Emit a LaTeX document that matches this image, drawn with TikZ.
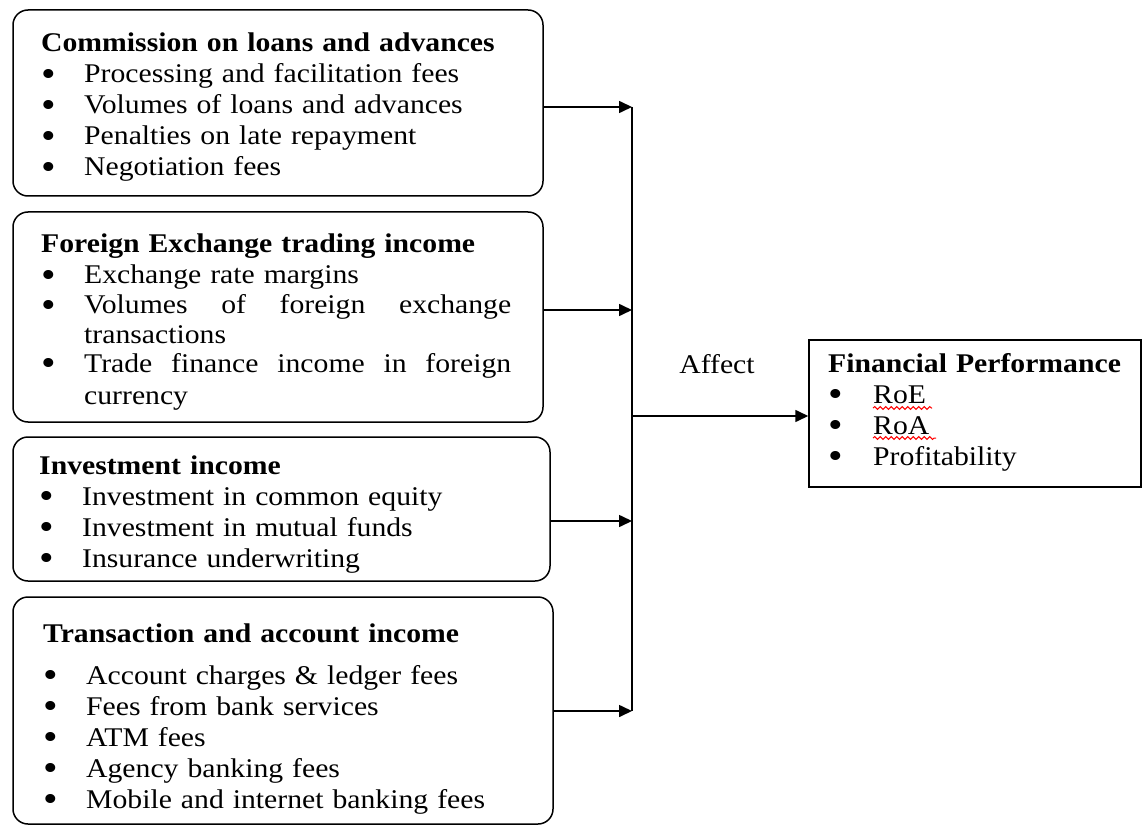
\documentclass[tikz,border=0pt]{standalone}
\usepackage{fontspec}
\usepackage{graphicx}
\setmainfont{Liberation Serif}[FakeStretch=1.1]
\usetikzlibrary{arrows.meta, positioning, decorations.pathmorphing}
\tikzstyle{card} = [draw, line width=1.5pt, rounded corners=15pt, inner sep=0pt]
\tikzstyle{plain} = [draw, line width=1.5pt, inner sep=0pt]
\tikzstyle{txt} = [anchor=base west, inner sep=0pt, text width=500pt, align=left, font=\fontsize{27}{31}\selectfont]
\tikzstyle{line} = [draw, line width=1.6pt]
\tikzstyle{arrow} = [draw, line width=1.6pt, -{Triangle[length=13pt, width=12pt]}]
\tikzstyle{spell} = [draw=red, line width=1pt, decorate, decoration={snake, amplitude=1.4pt, segment length=5.5pt}]
\newcommand{\itm}[1][43pt]{\makebox[#1][l]{\smash{\raisebox{-3.5pt}{\scalebox{1.4}{\textbullet}}}}}

\begin{document}
\begin{tikzpicture}[x=1pt, y=-1pt]
\useasboundingbox (0,0) rectangle (1142,826);

\node [card, minimum width=530pt, minimum height=186pt] (comm) at (278,103) {};
\node [card, minimum width=530pt, minimum height=210pt] (forex) at (278,317) {};
\node [card, minimum width=537pt, minimum height=144pt] (invest) at (281.5,509) {};
\node [card, minimum width=540pt, minimum height=227pt] (trans) at (283,710.5) {};
\node [plain, minimum width=332pt, minimum height=147pt] (perf) at (975,413.5) {};

\node [txt] (commtext) at (41,52) {\textbf{Commission on loans and advances}\\
	\itm Processing and facilitation fees\\
	\itm Volumes of loans and advances\\
	\itm Penalties on late repayment\\
	\itm Negotiation fees};
\node [txt, font=\fontsize{27}{29.5}\selectfont] (forextext) at (41,253) {\textbf{Foreign Exchange trading income}\\[1.5pt]
	\itm Exchange rate margins\\
	\itm\makebox[427pt]{Volumes\hfill of\hfill foreign\hfill exchange}\\
	\hspace*{43pt}transactions\\
	\itm\makebox[427pt]{Trade\hfill finance\hfill income\hfill in\hfill foreign}\\[2pt]
	\hspace*{43pt}currency};
\node [txt] (investtext) at (39,474) {\textbf{Investment income}\\
	\itm Investment in common equity\\
	\itm Investment in mutual funds\\
	\itm Insurance underwriting};
\node [txt] (transtext) at (43,642) {\textbf{Transaction and account income}\\[11pt]
	\itm Account charges \& ledger fees\\
	\itm Fees from bank services\\
	\itm ATM fees\\
	\itm Agency banking fees\\
	\itm Mobile and internet banking fees};
\node [txt, text width=320pt] (perftext) at (828,372) {\textbf{Financial Performance}\\
	\itm[45pt]RoE\\
	\itm[45pt]RoA\\
	\itm[45pt]Profitability};
\node [txt, anchor=base, text width=] (affect) at (717,373) {Affect};

\coordinate (jcomm) at (632,107);
\coordinate (jforex) at (632,310);
\coordinate (jinvest) at (632,521);
\coordinate (jtrans) at (632,711);
\coordinate (hub) at (632,416);

\path [arrow] (comm.east |- jcomm) -- (jcomm);
\path [arrow] (forex.east |- jforex) -- (jforex);
\path [arrow] (invest.east |- jinvest) -- (jinvest);
\path [arrow] (trans.east |- jtrans) -- (jtrans);
\path [line] (jcomm) -- (jtrans);
\path [arrow] (hub) -- (perf.west |- hub);

\draw [spell] (873,408) -- (932,408);
\draw [spell] (873,438) -- (936,438);
\end{tikzpicture}
\end{document}
